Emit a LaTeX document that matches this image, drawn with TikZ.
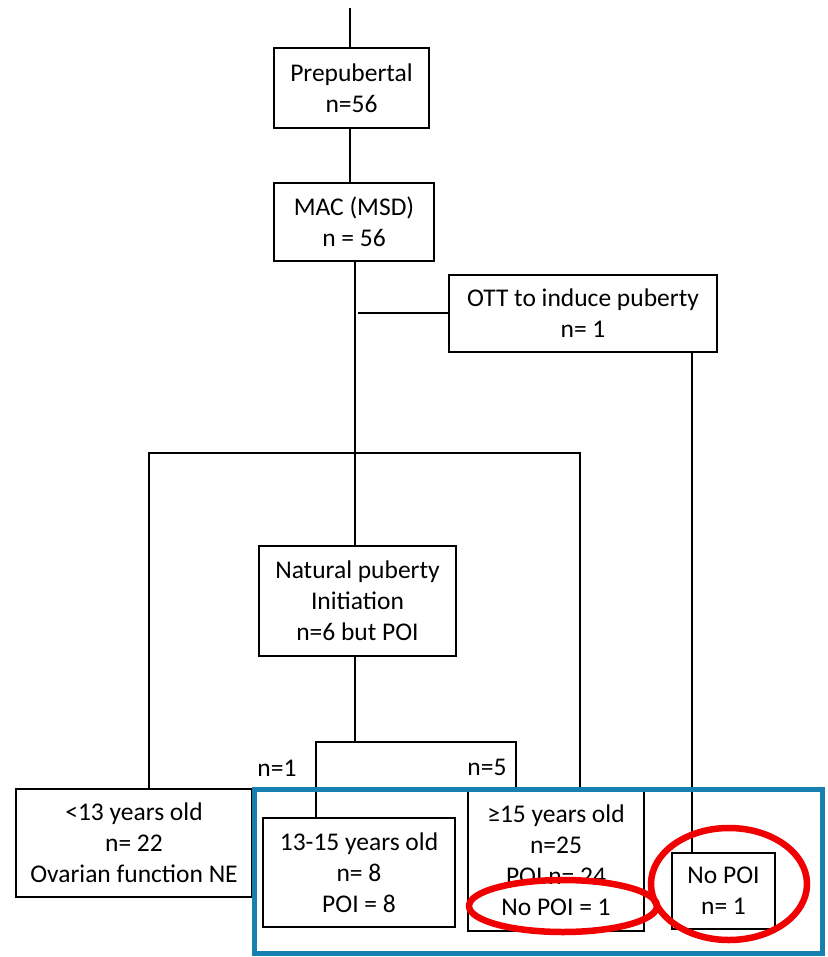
\documentclass[tikz,border=0pt]{standalone}
\usepackage{fontspec}
\setmainfont{Carlito}
\definecolor{hlblue}{RGB}{24,128,176}
\definecolor{hlred}{RGB}{240,0,0}
\begin{document}
\begin{tikzpicture}[x=1pt,y=-1pt,
  box/.style={draw=black, line width=1.6pt, align=center, inner sep=0pt, font=\fontsize{25.5}{31}\selectfont},
  ln/.style={draw=black, line width=1.6pt},
  lbl/.style={font=\fontsize{25.5}{31}\selectfont, inner sep=0pt},
  blueframe/.style={draw=hlblue, line width=5pt},
  redring/.style={draw=hlred, line width=6.5pt}]
\useasboundingbox (0,0) rectangle (827,957);
% boxes
\node[box, minimum width=155pt, minimum height=80pt] (prep) at (351.5,88) {Prepubertal\\n=56};
\node[box, minimum width=160pt, minimum height=78pt] (mac) at (354,222) {MAC (MSD)\\n = 56};
\node[box, minimum width=268pt, minimum height=77pt] (ott) at (583,313.5) {OTT to induce puberty\\n= 1};
\node[box, minimum width=197pt, minimum height=110pt] (nat) at (357.5,601) {Natural puberty\\Initiation\\n=6 but POI};
\node[box, minimum width=236pt, minimum height=108pt] (lt) at (134,843) {<13 years old\\n= 22\\Ovarian function NE};
\node[box, minimum width=192pt, minimum height=109pt] (mid) at (359,872.5) {13-15 years old\\n= 8\\POI = 8};
\node[box, minimum width=176pt, minimum height=141pt] (ge) at (556,860.5) {≥15 years old\\n=25\\POI n= 24\\No POI = 1};
\node[box, minimum width=103pt, minimum height=76pt] (nopoi) at (723.5,891) {No POI\\n= 1};
% labels
\node[lbl] (n1) at (277,768) {n=1};
\node[lbl] (n5) at (487,767) {n=5};
% helper coordinates
\coordinate (top) at (350,8);
\coordinate (trunk) at (355,0);
\coordinate (brl) at (149,453);
\coordinate (brr) at (580,453);
\coordinate (bif) at (355,313);
\coordinate (ottx) at (692,0);
\coordinate (sbl) at (316,742);
\coordinate (sbr) at (516,742);
\coordinate (sbend) at (516,787);
% connectors
\draw[ln] (top) -- (top |- prep.north);
\draw[ln] (prep.south -| top) -- (mac.north -| top);
\draw[ln] (mac.south -| trunk) -- (nat.north -| trunk);
\draw[ln] ([xshift=3pt]bif) -- (ott.west |- bif);
\draw[ln] (ott.south -| ottx) -- (nopoi.north -| ottx);
\draw[ln] (lt.north -| brl) -- (brl) -- (brr) -- (ge.north -| brr);
\draw[ln] (nat.south -| trunk) -- (trunk |- sbl);
\draw[ln] (mid.north -| sbl) -- (sbl) -- (sbr) -- (sbend);
% highlight frame
\draw[blueframe] (254.5,789.5) rectangle (822.5,953.5);
% red rings
\draw[redring] (563,906) ellipse [x radius=94pt, y radius=26pt];
\draw[redring] (729,884) ellipse [x radius=78pt, y radius=56pt];
\end{tikzpicture}
\end{document}
